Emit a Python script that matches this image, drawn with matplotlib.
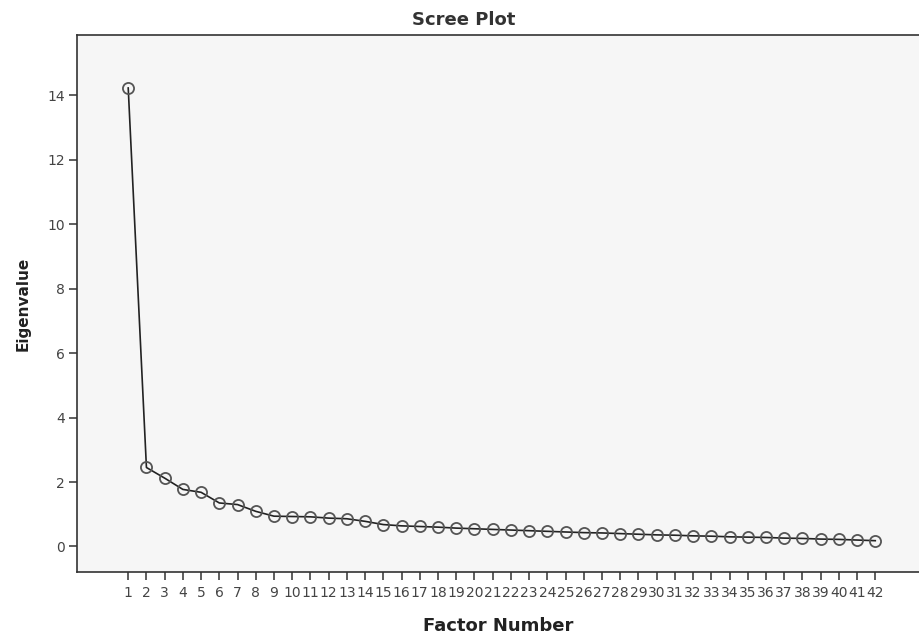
import matplotlib
matplotlib.use("Agg")
from matplotlib import pyplot as plt

factors = list(range(1, 43))
eigenvalues = [14.22, 2.45, 2.12, 1.77, 1.68, 1.35, 1.30, 1.09, 0.94, 0.93,
               0.92, 0.88, 0.86, 0.78, 0.68, 0.64, 0.62, 0.60, 0.57, 0.55,
               0.53, 0.51, 0.49, 0.47, 0.45, 0.43, 0.42, 0.40, 0.38, 0.36,
               0.35, 0.33, 0.32, 0.30, 0.29, 0.28, 0.26, 0.25, 0.23, 0.22,
               0.20, 0.18]
yticks = [0, 2, 4, 6, 8, 10, 12, 14]

plt.rcParams['font.family'] = ['DejaVu Sans']

fig = plt.figure(figsize=(9.19, 6.38), dpi=100)
ax = fig.add_axes([0.084, 0.103, 0.916, 0.842])
ax.set_facecolor('#f6f6f6')

ax.plot(factors, eigenvalues, color='#222222', linewidth=1.2,
        marker='o', markersize=8, markerfacecolor='none',
        markeredgecolor='#555555', markeredgewidth=1.3)

ax.set_xlim(-1.8, 44.4)
ax.set_ylim(-0.8, 15.86)
ax.set_xticks(factors)
ax.set_xticklabels([str(f) for f in factors])
ax.set_yticks(yticks)

ax.spines['right'].set_visible(False)
for s in ['left', 'bottom', 'top']:
    ax.spines[s].set_color('#333333')
    ax.spines[s].set_linewidth(1.2)
ax.tick_params(axis='both', direction='out', length=6, width=1.1,
               color='#333333', labelcolor='#444444', labelsize=10, pad=3)
ax.tick_params(axis='x', pad=4)

fig.text(0.505, 0.968, 'Scree Plot', ha='center', va='center',
         fontsize=13, fontweight='bold', color='#333333')
ax.set_xlabel('Factor Number', fontsize=13, fontweight='bold', color='#222222', labelpad=12)
ax.set_ylabel('Eigenvalue', fontsize=11, fontweight='bold', color='#222222', labelpad=12)

plt.savefig('out.png', dpi=100)
